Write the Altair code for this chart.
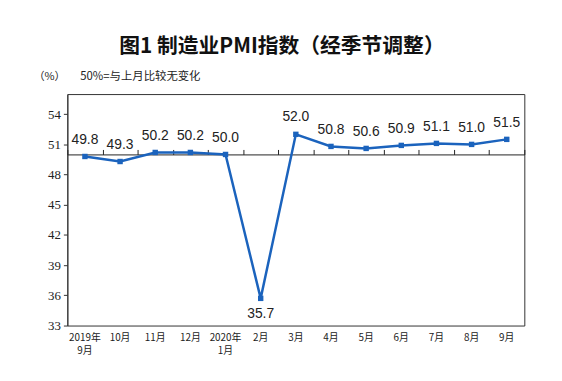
import altair as alt
import pandas as pd

months = ["2019年|9月", "10月", "11月", "12月", "2020年|1月", "2月", "3月",
          "4月", "5月", "6月", "7月", "8月", "9月"]
pmi = [49.8, 49.3, 50.2, 50.2, 50.0, 35.7, 52.0, 50.8, 50.6, 50.9, 51.1, 51.0, 51.5]
y_ticks = [33, 36, 39, 42, 45, 48, 51, 54]

title_text = "图1  制造业PMI指数（经季节调整）"
unit_text = "（%）"
note_text = "50%=与上月比较无变化"

df = pd.DataFrame({"month": months, "pmi": pmi})

W, H = 462, 234
Y_MIN, Y_MAX = 33, 56
BLUE = "#1b63bd"
CJK = "Noto Sans CJK SC"

xscale = alt.Scale(type="band", paddingInner=0, paddingOuter=0)
yenc = alt.Y("pmi:Q",
             scale=alt.Scale(domain=[Y_MIN, Y_MAX], nice=False, zero=False),
             axis=alt.Axis(values=y_ticks, grid=False, tickSize=4, tickColor="#333",
                           domainColor="#333", labelFont="Liberation Serif",
                           labelFontSize=13, labelColor="#222", labelPadding=3,
                           title=None))

base = alt.Chart(df).encode(y=yenc)

bottom_axis = alt.Axis(orient="bottom", domain=False, ticks=False, labelAngle=0,
                       labelExpr="split(datum.label, '|')", labelFont=CJK,
                       labelFontSize=10, labelColor="#222", labelPadding=7,
                       labelLineHeight=13, labelBaseline="top", title=None)

# axis line at 50 with ticks between months
offset50 = -round(H * (Y_MAX - 50) / (Y_MAX - Y_MIN))
mid_axis = alt.Axis(orient="top", offset=offset50, domain=True, domainColor="#222",
                    ticks=True, tickBand="extent", tickSize=5, tickColor="#222",
                    labels=False, title=None)

line = base.mark_line(color=BLUE, strokeWidth=2.5).encode(
    x=alt.X("month:N", sort=months, scale=xscale, axis=bottom_axis))

pts = base.mark_point(shape="square", filled=True, size=30, color=BLUE, opacity=1).encode(
    x=alt.X("month:N", sort=months, scale=xscale, axis=mid_axis))

labels_up = base.transform_filter("datum.pmi >= 40").mark_text(
    dy=-13, baseline="alphabetic", font="Liberation Sans", fontSize=14, color="#222"
).encode(x=alt.X("month:N", sort=months, scale=xscale, axis=None),
         text=alt.Text("pmi:Q", format=".1f"))

labels_down = base.transform_filter("datum.pmi < 40").mark_text(
    dy=20, baseline="alphabetic", font="Liberation Sans", fontSize=14, color="#222"
).encode(x=alt.X("month:N", sort=months, scale=xscale, axis=None),
         text=alt.Text("pmi:Q", format=".1f"))

ann = pd.DataFrame({"t": [title_text]})
title = alt.Chart(ann).mark_text(font=CJK, fontSize=21, fontWeight="bold",
                                 color="#111", align="center", baseline="alphabetic").encode(
    x=alt.value(217), y=alt.value(-42), text="t:N")

unit = alt.Chart(pd.DataFrame({"t": [unit_text]})).mark_text(
    font=CJK, fontSize=11, color="#222", align="left", baseline="middle").encode(
    x=alt.value(-34), y=alt.value(-17), text="t:N")

note = alt.Chart(pd.DataFrame({"t": [note_text]})).mark_text(
    font=CJK, fontSize=11.5, color="#222", align="left", baseline="middle").encode(
    x=alt.value(13), y=alt.value(-17), text="t:N")

chart = alt.layer(line, pts, labels_up, labels_down, title, unit, note).resolve_axis(
    x="independent"
).properties(
    width=W, height=H,
    autosize=alt.AutoSizeParams(type="none"),
    padding={"left": 60, "top": 85, "right": 30, "bottom": 50},
    background="white",
).configure_view(stroke="#333", strokeWidth=1)

chart.save("out.html", embed_options={"renderer": "svg", "actions": False})
